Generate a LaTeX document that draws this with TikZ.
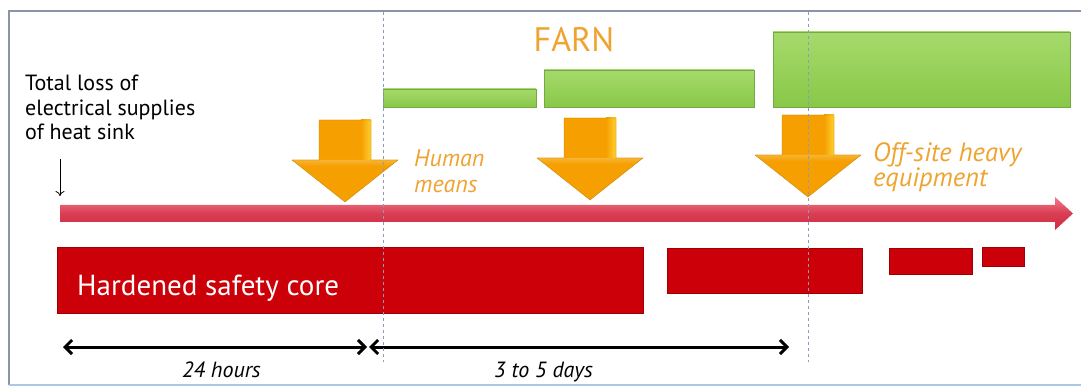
\documentclass[tikz,border=0pt]{standalone}
\usepackage{fontspec}
\setmainfont{PT Sans}
\usetikzlibrary{arrows.meta}
\definecolor{frameC}{HTML}{8A94A6}
\definecolor{frameB}{HTML}{A9C8E8}
\definecolor{dashC}{HTML}{8C9BB8}
\definecolor{tlTop}{HTML}{F27A8A}
\definecolor{tlBot}{HTML}{D42840}
\definecolor{barRed}{HTML}{CC0008}
\definecolor{barRedD}{HTML}{9E0006}
\definecolor{grTop}{HTML}{A6DA6C}
\definecolor{grBot}{HTML}{88C848}
\definecolor{grD}{HTML}{76A846}
\definecolor{orA}{HTML}{F5A000}
\definecolor{orB}{HTML}{FFD030}
\definecolor{orText}{HTML}{EFA330}
\tikzset{
  redbar/.style={fill=barRed, draw=barRedD, line width=0.6pt},
  greenbar/.style={top color=grTop, bottom color=grBot, draw=grD, line width=0.6pt},
  dashline/.style={dashC, line width=0.8pt, dash pattern=on 3pt off 3pt},
  lbl/.style={inner sep=0pt, anchor=base west, font=\fontsize{22}{25}\selectfont},
  orlbl/.style={inner sep=0pt, anchor=base west, text=orText, font=\fontsize{24}{28}\selectfont\itshape},
  durlbl/.style={inner sep=0pt, anchor=base west, font=\fontsize{22}{24}\selectfont\itshape},
  dimarrow/.style={line width=3pt, {Straight Barb[length=7pt,width=14pt]}-{Straight Barb[length=7pt,width=14pt]}},
  blockarrow/.pic={
    \fill[orA] (-26,-82) -- (26,-82) -- (26,-42) -- (53,-42) -- (0,0) -- (-53,-42) -- (-26,-42) -- cycle;
    \shade[left color=orA, right color=orB] (16,-82) rectangle (26,-42);
    \shade[top color=orA!80!white, bottom color=orA] (-53,-42) -- (53,-42) -- (45,-36) -- (-45,-36) -- cycle;
    \draw[orA!80!black, line width=0.3pt] (-26,-82) -- (26,-82) -- (26,-42) -- (53,-42) -- (0,0) -- (-53,-42) -- (-26,-42) -- cycle;
  }
}
\begin{document}
\begin{tikzpicture}[x=1pt,y=-1pt]
\useasboundingbox (0,0) rectangle (1081,387);
\fill[white] (0,0) rectangle (1081,387);
% frame
\draw[frameC, line width=1.5pt] (9,385) -- (9,11) -- (1081,11);
\draw[frameB, line width=1.5pt] (9,385) -- (1081,385);

% green bars
\draw[greenbar] (383,89) rectangle (536,107);
\draw[greenbar] (544,70) rectangle (754,107);
\draw[greenbar] (773,32) rectangle (1070,107);

\node[inner sep=0pt, anchor=base, text=orText, font=\fontsize{34}{38}\selectfont] (farn) at (574,52) {FARN};

% orange block arrows
\pic at (345,202) {blockarrow};
\pic at (590,200) {blockarrow};
\pic at (808,197) {blockarrow};

% timeline
\shade[top color=tlTop, bottom color=tlBot, middle color=tlBot!90!white]
  (60,205) -- (1055,205) -- (1055,197) -- (1073,213.5) -- (1055,230) -- (1055,222) -- (60,222) -- cycle;

% left text
\node[lbl] (t1) at (25,91) {Total loss of};
\node[lbl] (t2) at (25,115.5) {electrical supplies};
\node[lbl] (t3) at (25,140) {of heat sink};
\coordinate (lossA) at (60,159);
\coordinate (lossB) at (60,196);
\draw[line width=0.8pt, -{To[length=5pt,width=9pt]}] (lossA) -- (lossB);

\node[orlbl] (hm1) at (414,167) {Human};
\node[orlbl] (hm2) at (414,193) {means};
\node[orlbl, font=\fontsize{26.5}{28}\selectfont\itshape] (os1) at (873,162) {Off-site heavy};
\node[orlbl, font=\fontsize{26.5}{28}\selectfont\itshape] (os2) at (873,187) {equipment};

% red bars
\draw[redbar] (57,247) rectangle (643,313);
\draw[redbar] (667,248) rectangle (862,293);
\draw[redbar] (889,248) rectangle (972,274);
\draw[redbar] (982,247) rectangle (1024,266);
\node[inner sep=0pt, anchor=base west, text=white, font=\fontsize{29}{32}\selectfont] (hsc) at (77,295) {Hardened safety core};

% duration arrows
\coordinate (d0) at (63,347);
\coordinate (d1) at (367,347);
\coordinate (d2) at (369,347);
\coordinate (d3) at (789,347);
\draw[dimarrow] (d0) -- (d1);
\draw[dimarrow] (d2) -- (d3);
\node[durlbl] (h24) at (182,377) {24 hours};
\node[durlbl] (d35) at (494,377) {3 to 5 days};

% dashed verticals
\draw[dashline] (383,12) -- (383,362);
\draw[dashline] (808,12) -- (808,362);
\end{tikzpicture}
\end{document}
